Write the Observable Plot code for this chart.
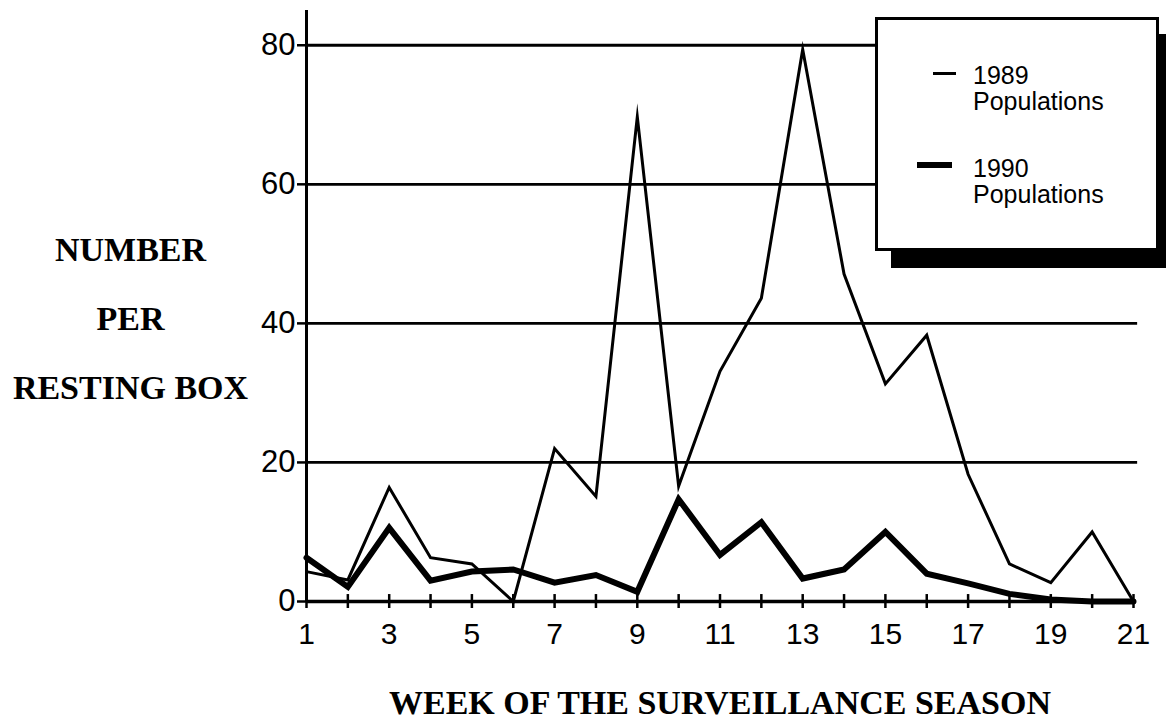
<!DOCTYPE html>
<html>
<head>
<meta charset="utf-8">
<script src="https://cdn.jsdelivr.net/npm/d3@7"></script>
<script src="https://cdn.jsdelivr.net/npm/@observablehq/plot@0.6"></script>
<style>
  html, body { margin: 0; padding: 0; background: #fff; overflow: hidden; }
  #wrap { position: relative; width: 1166px; height: 725px; }
  #legend {
    position: absolute; left: 875px; top: 17px; width: 278px; height: 228px;
    border: 3px solid #000; background: #fff; box-shadow: 16px 17px 0 #000;
    font-family: "Liberation Sans", Arial, sans-serif; font-size: 25px; line-height: 26px; color: #000;
  }
  .sw { position: absolute; background: #000; }
  .lt { position: absolute; left: 95px; }
</style>
</head>
<body>
<div id="wrap"></div>
<script>
const weeks = d3.range(1, 22);
const pop1989 = [4.3, 3.1, 16.4, 6.3, 5.4, 0, 22, 15.1, 69.7, 16.6, 33.1, 43.6, 79.4, 47.1, 31.3, 38.3, 18.3, 5.4, 2.7, 10, 0];
const pop1990 = [6.3, 2.1, 10.6, 3.0, 4.3, 4.6, 2.7, 3.8, 1.4, 14.7, 6.7, 11.4, 3.3, 4.6, 10, 4, 2.6, 1.1, 0.3, 0, 0];
const yTicks = [0, 20, 40, 60, 80];
const gridValues = [20, 40, 60, 80];
const seriesNames = ["1989\nPopulations", "1990\nPopulations"];
const yTitle = "NUMBER\nPER\nRESTING BOX";
const xTitle = "WEEK OF THE SURVEILLANCE SEASON";

const rows89 = weeks.map((w, i) => ({week: w, value: pop1989[i]}));
const rows90 = weeks.map((w, i) => ({week: w, value: pop1990[i]}));

const chart = Plot.plot({
  width: 1166,
  height: 725,
  marginLeft: 306,
  marginRight: 33,
  marginTop: 10,
  marginBottom: 124,
  style: {fontFamily: "Liberation Sans, Arial, sans-serif", color: "#000", background: "#fff"},
  x: {domain: [1, 21]},
  y: {domain: [0, 85]},
  marks: [
    Plot.ruleY(gridValues, {x1: 1, x2: 21.1, stroke: "#000", strokeWidth: 2.8}),
    Plot.axisY({ticks: yTicks, tickSize: 9, tickPadding: 2, strokeWidth: 2.5, fontSize: 31, label: null}),
    Plot.axisX({ticks: weeks, tickFormat: d => d % 2 ? String(d) : "", tickSize: 7, tickPadding: 14, strokeWidth: 2.5, fontSize: 30, label: null}),
    Plot.ruleX(weeks, {x: d => d, y1: 0, y2: 1, stroke: "#000", strokeWidth: 2.5}),
    Plot.ruleX([1], {y1: 0, y2: 85, stroke: "#000", strokeWidth: 3}),
    Plot.ruleY([0], {x1: 1, x2: 21, stroke: "#000", strokeWidth: 3.5}),
    Plot.line(rows89, {x: "week", y: "value", stroke: "#000", strokeWidth: 3, strokeLinejoin: "miter", strokeMiterlimit: 10}),
    Plot.line(rows90, {x: "week", y: "value", stroke: "#000", strokeWidth: 6, strokeLinejoin: "miter", strokeMiterlimit: 10}),
    Plot.text([yTitle], {frameAnchor: "left", dx: -176, dy: 2, textAnchor: "middle", lineHeight: 2.03,
      fontFamily: "Liberation Serif, Times New Roman, serif", fontWeight: "bold", fontSize: 34, fill: "#000"}),
    Plot.text([xTitle], {frameAnchor: "bottom", dy: 102, textAnchor: "middle", lineAnchor: "middle",
      fontFamily: "Liberation Serif, Times New Roman, serif", fontWeight: "bold", fontSize: 34, fill: "#000"})
  ]
});
const wrap = document.getElementById("wrap");
wrap.appendChild(chart);

// legend overlay
const lg = document.createElement("div");
lg.id = "legend";
const [n89, n90] = seriesNames.map(s => s.split("\n"));
lg.innerHTML = `
  <div class="sw" style="left:55px;top:52px;width:23px;height:3px"></div>
  <div class="lt" style="top:42px">${n89[0]}</div>
  <div class="lt" style="top:68px">${n89[1]}</div>
  <div class="sw" style="left:39px;top:142px;width:35px;height:6px"></div>
  <div class="lt" style="top:135px">${n90[0]}</div>
  <div class="lt" style="top:161px">${n90[1]}</div>`;
wrap.appendChild(lg);
</script>
</body>
</html>
